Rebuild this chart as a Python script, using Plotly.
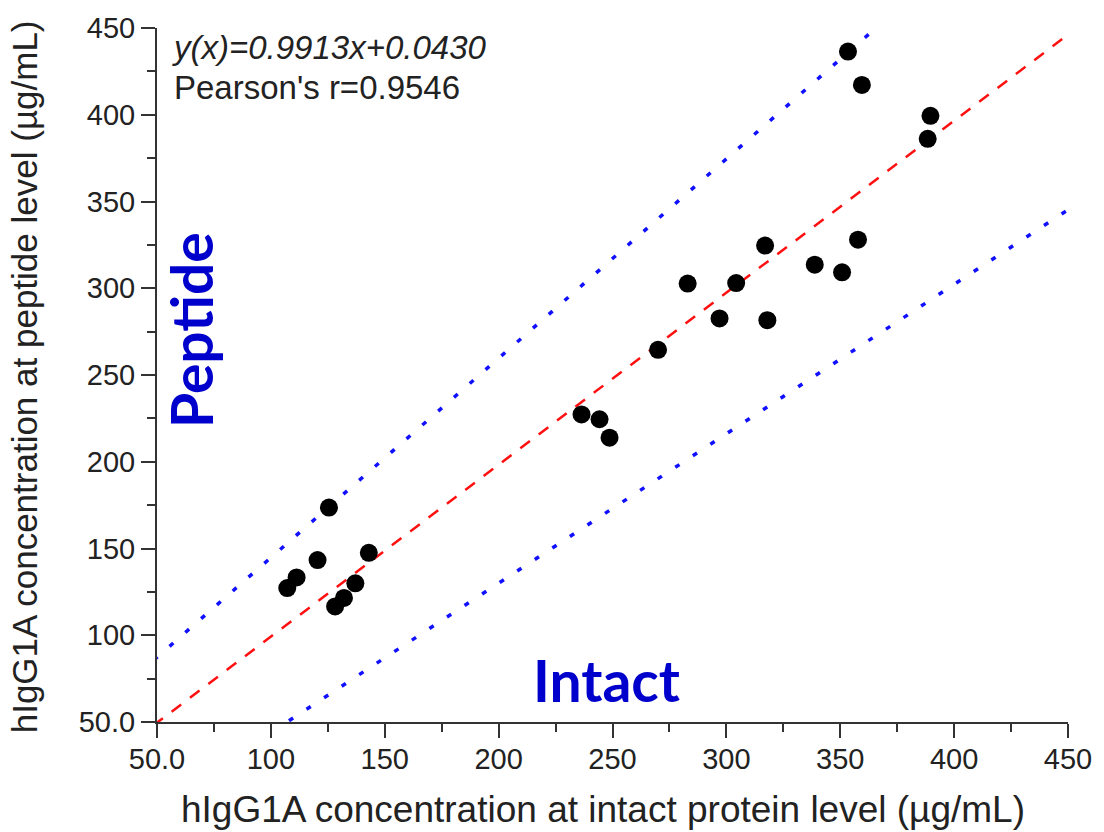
import plotly.graph_objects as go

# ---- data ----
intact = [107.2, 111.3, 120.5, 125.5, 128.2, 132.1, 137.1, 143.0,
          236.4, 244.3, 248.7, 270.0, 283.0, 297.0, 304.3, 317.0, 318.0,
          338.8, 350.8, 357.8, 353.4, 359.5, 388.4, 389.6]
peptide = [127.2, 133.3, 143.3, 173.6, 116.6, 121.5, 129.9, 147.5,
           227.3, 224.5, 213.9, 264.5, 302.7, 282.6, 303.0, 324.6, 281.6,
           313.6, 309.2, 328.0, 436.4, 417.2, 386.1, 399.4]

fit_slope, fit_intercept = 0.9913, 0.0430
upper_slope, upper_intercept = 1.149, 29.85
lower_slope, lower_intercept = 0.861, -42.2
line_x = [0, 450]

tick_vals = [50, 100, 150, 200, 250, 300, 350, 400, 450]
tick_text = ["50.0", "100", "150", "200", "250", "300", "350", "400", "450"]
minor_vals = [75, 125, 175, 225, 275, 325, 375, 425]

# ---- figure ----
fig = go.Figure()
fig.add_trace(go.Scatter(
    x=line_x, y=[fit_slope * v + fit_intercept for v in line_x], mode="lines",
    line=dict(color="#FF1010", width=2.5, dash="12px,11px"), hoverinfo="skip"))
fig.add_trace(go.Scatter(
    x=line_x, y=[upper_slope * v + upper_intercept for v in line_x], mode="lines",
    line=dict(color="#1010FF", width=3.5, dash="5px,16px"), hoverinfo="skip"))
fig.add_trace(go.Scatter(
    x=line_x, y=[lower_slope * v + lower_intercept for v in line_x], mode="lines",
    line=dict(color="#1010FF", width=3.5, dash="5px,16px"), hoverinfo="skip"))
fig.add_trace(go.Scatter(
    x=intact, y=peptide, mode="markers",
    marker=dict(color="black", size=18, line=dict(width=0)), cliponaxis=False))

axis_common = dict(
    range=[50, 450], showgrid=False, zeroline=False, showline=True,
    linecolor="#333333", linewidth=2, ticks="outside", ticklen=14,
    tickwidth=2, tickcolor="#333333", tickmode="array",
    tickvals=tick_vals, ticktext=tick_text,
    tickfont=dict(family="Liberation Sans, Arial", size=29, color="#222222"),
    minor=dict(tickmode="array", tickvals=minor_vals, ticks="outside",
               ticklen=8, tickwidth=2, tickcolor="#333333"),
)
fig.update_xaxes(**axis_common, ticklabelstandoff=-4)
fig.update_yaxes(**axis_common, ticklabelstandoff=0)

PW, PH, L, T = 913, 696, 157, 26


def px(xp):
    return (xp - L) / PW


def py(yp):
    return (T + PH - yp) / PH


anns = [
    dict(text="hIgG1A concentration at intact protein level (µg/mL)",
         x=px(604), y=py(810), font=dict(size=37, family="Liberation Sans, Arial", color="#222222")),
    dict(text="hIgG1A concentration at peptide level (µg/mL)", textangle=-90,
         x=px(25), y=py(376), font=dict(size=35, family="Liberation Sans, Arial", color="#222222")),
    dict(text="<i>y(x)=0.9913x+0.0430</i>", x=px(170), y=py(46), xanchor="left",
         font=dict(size=33, family="Liberation Sans, Arial", color="#222222")),
    dict(text="Pearson's r=0.9546", x=px(172), y=py(86), xanchor="left",
         font=dict(size=33, family="Liberation Sans, Arial", color="#222222")),
    dict(text="<b>Peptide</b>", textangle=-90, x=px(191), y=py(329),
         font=dict(size=57, family="Lato", color="#0000CC")),
    dict(text="<b>Intact</b>", x=px(607), y=py(680),
         font=dict(size=57, family="Lato", color="#0000CC")),
]
for a in anns:
    a.setdefault("xanchor", "center")
    fig.add_annotation(xref="paper", yref="paper", yanchor="middle",
                       showarrow=False, **a)

fig.update_layout(
    width=1104, height=832, showlegend=False,
    margin=dict(l=L, r=1104 - L - PW, t=T, b=832 - T - PH),
    paper_bgcolor="white", plot_bgcolor="white",
)
fig.write_html("out.html")
